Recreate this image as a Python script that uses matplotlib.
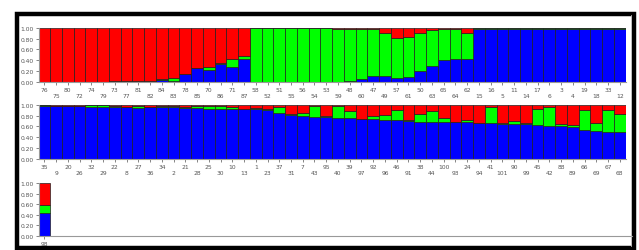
import matplotlib
matplotlib.use("Agg")
import matplotlib.pyplot as plt
from matplotlib.patches import Rectangle
import numpy as np

# fila 1
ids1 = ["76", "75", "80", "72", "74", "79", "73", "77", "81", "82",
        "84", "83", "78", "85", "70", "86", "71", "87", "58", "52",
        "51", "55", "56", "54", "53", "59", "48", "60", "47", "49",
        "57", "61", "50", "63", "65", "64", "62", "15", "16", "5",
        "11", "14", "17", "6", "3", "4", "19", "18", "33", "12"]
azul1 = [0, 0, 0, 0, 0, 0, 0, 0, 0, 0,
         0.03, 0.01, 0.14, 0.25, 0.22, 0.33, 0.27, 0.425, 0, 0,
         0, 0, 0, 0, 0, 0, 0.02, 0.05, 0.10, 0.10,
         0.06, 0.09, 0.20, 0.30, 0.40, 0.425, 0.425, 0.99, 0.99, 0.99,
         0.99, 0.99, 0.99, 0.99, 0.99, 0.99, 0.99, 0.99, 0.99, 0.99]
verde1 = [0, 0, 0, 0, 0, 0, 0.005, 0.01, 0.01, 0.015,
          0.02, 0.05, 0, 0, 0.06, 0.01, 0.15, 0.045, 1.0, 1.0,
          1.0, 1.0, 1.0, 1.0, 0.995, 0.98, 0.97, 0.94, 0.89, 0.81,
          0.76, 0.735, 0.71, 0.67, 0.59, 0.565, 0.475, 0.005, 0.005, 0.005,
          0.005, 0.005, 0.005, 0.005, 0.005, 0.005, 0.005, 0.005, 0.005, 0.005]

# fila 2
ids2 = ["35", "9", "20", "26", "32", "29", "22", "8", "27", "36",
        "34", "2", "21", "28", "25", "30", "10", "13", "1", "23",
        "37", "31", "7", "43", "95", "40", "39", "97", "92", "96",
        "46", "91", "38", "44", "100", "93", "24", "94", "41", "101",
        "90", "99", "45", "42", "88", "89", "66", "69", "67", "68"]
azul2 = [0.98, 0.97, 0.97, 0.97, 0.96, 0.96, 0.96, 0.95, 0.94, 0.95,
         0.95, 0.95, 0.94, 0.94, 0.93, 0.93, 0.92, 0.92, 0.915, 0.895,
         0.85, 0.81, 0.80, 0.78, 0.77, 0.755, 0.75, 0.74, 0.73, 0.725,
         0.72, 0.705, 0.69, 0.69, 0.69, 0.68, 0.675, 0.665, 0.655, 0.65,
         0.65, 0.645, 0.63, 0.615, 0.61, 0.585, 0.54, 0.51, 0.505, 0.49]
verde2 = [0.01, 0.005, 0.005, 0.01, 0.03, 0.03, 0.01, 0.01, 0.04, 0.01,
          0.02, 0.02, 0.01, 0.03, 0.04, 0.04, 0.04, 0.0, 0.025, 0.035,
          0.10, 0.01, 0.04, 0.19, 0.02, 0.22, 0.14, 0.005, 0.055, 0.085,
          0.18, 0.02, 0.13, 0.20, 0.06, 0.0, 0.04, 0.0, 0.31, 0.01,
          0.05, 0.02, 0.30, 0.34, 0.04, 0.04, 0.36, 0.16, 0.40, 0.34]

# fila 3
ids3 = ["98"]
azul3 = [0.43]
verde3 = [0.15]

filas = [(ids1, azul1, verde1), (ids2, azul2, verde2), (ids3, azul3, verde3)]

fig = plt.figure(figsize=(6.39, 2.51), dpi=100)
fig.patch.set_facecolor("white")

# posiciones de los ejes (fraccion de la figura)
x0 = 38.5 / 639
ancho = (625.7 - 38.5) / 639
bases = [1 - 82.7 / 251, 1 - 160 / 251, 1 - 236.7 / 251]
altos = [53.7 / 251, 54.3 / 251, 52.7 / 251]

for k, (ids, azul, verde) in enumerate(filas):
    ax = fig.add_axes([x0, bases[k], ancho, altos[k]])
    x = np.arange(len(ids))
    azul = np.array(azul)
    verde = np.array(verde)
    rojo = 1 - azul - verde
    kw = dict(width=1.0, align="edge", edgecolor="#202020", linewidth=0.5)
    ax.bar(x, azul, color="#0000ff", **kw)
    ax.bar(x, verde, bottom=azul, color="#00ff00", **kw)
    ax.bar(x, rojo, bottom=azul + verde, color="#ff0000", **kw)
    ax.set_xlim(0, 50)
    ax.set_ylim(0, 1.0)
    ax.set_yticks([0, 0.2, 0.4, 0.6, 0.8, 1.0])
    ax.set_yticklabels(["0.00", "0.20", "0.40", "0.60", "0.80", "1.00"])
    # etiquetas alternadas en dos niveles
    etiquetas = [s if i % 2 == 0 else "\n" + s for i, s in enumerate(ids)]
    ax.set_xticks(x + 0.5)
    ax.set_xticklabels(etiquetas, linespacing=1.3)
    ax.tick_params(axis="both", labelsize=4.3, colors="#555555", length=2,
                   width=0.5, pad=1.5)
    ax.spines["top"].set_visible(False)
    ax.spines["right"].set_visible(False)
    ax.spines["left"].set_color("#999999")
    ax.spines["left"].set_linewidth(0.8)
    ax.spines["bottom"].set_color("#999999")
    ax.spines["bottom"].set_linewidth(0.8)
    if k == 2:
        # la linea base de la ultima fila llega hasta el borde
        ax.spines["bottom"].set_visible(False)
        linea = plt.Line2D([x0, 632 / 639], [bases[k], bases[k]],
                           transform=fig.transFigure, color="#999999", lw=0.8)
        fig.add_artist(linea)

# marco negro exterior
marco = Rectangle((16.5 / 639, 2.5 / 251), 617.5 / 639, 234 / 251,
                  transform=fig.transFigure, fill=False, edgecolor="black",
                  linewidth=3.2)
fig.add_artist(marco)
gris = plt.Line2D([631 / 639, 631 / 639], [4 / 251, 235 / 251],
                  transform=fig.transFigure, color="#bbbbbb", lw=0.6)
fig.add_artist(gris)

fig.savefig("out.png", dpi=100)
